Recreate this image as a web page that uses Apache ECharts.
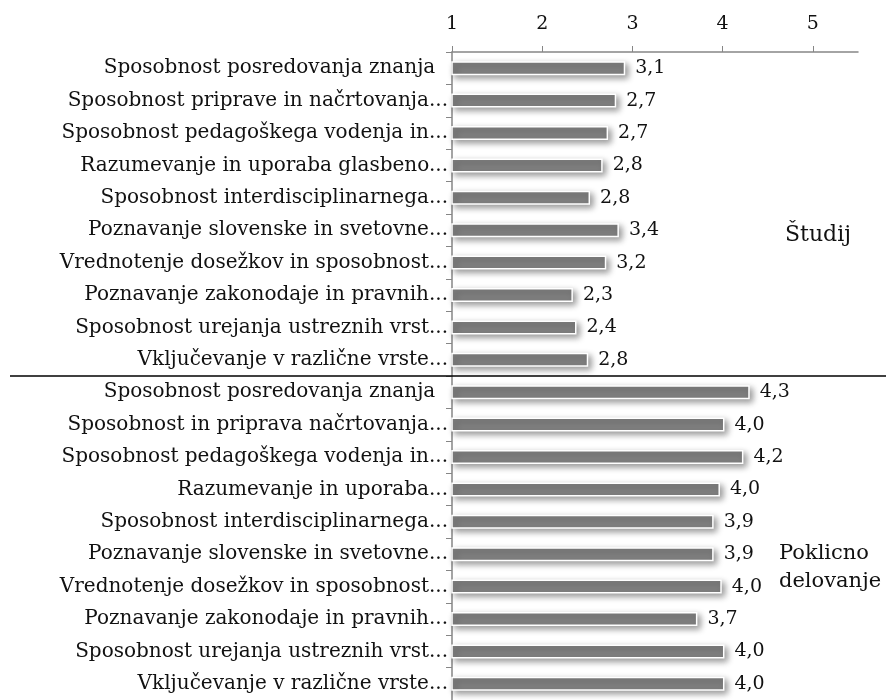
<!DOCTYPE html>
<html>
<head>
<meta charset="utf-8">
<script src="https://cdn.jsdelivr.net/npm/echarts@6/dist/echarts.min.js"></script>
<style>
  html, body { margin: 0; padding: 0; background: #fff; }
  #chart { width: 886px; height: 700px; }
</style>
</head>
<body>
<div id="chart"></div>
<script>
// kategorije (zgoraj: Študij, spodaj: Poklicno delovanje)
const categories = [
  'Sposobnost posredovanja znanja  ',
  'Sposobnost priprave in načrtovanja...',
  'Sposobnost pedagoškega vodenja in...',
  'Razumevanje in uporaba glasbeno...',
  'Sposobnost interdisciplinarnega...',
  'Poznavanje slovenske in svetovne...',
  'Vrednotenje dosežkov in sposobnost...',
  'Poznavanje zakonodaje in pravnih...',
  'Sposobnost urejanja ustreznih vrst...',
  'Vključevanje v različne vrste...',
  'Sposobnost posredovanja znanja  ',
  'Sposobnost in priprava načrtovanja...',
  'Sposobnost pedagoškega vodenja in...',
  'Razumevanje in uporaba...',
  'Sposobnost interdisciplinarnega...',
  'Poznavanje slovenske in svetovne...',
  'Vrednotenje dosežkov in sposobnost...',
  'Poznavanje zakonodaje in pravnih...',
  'Sposobnost urejanja ustreznih vrst...',
  'Vključevanje v različne vrste...'
]
// dolžine stolpcev, odčitane s slike
const barValues = [2.92, 2.82, 2.73, 2.67, 2.53, 2.85, 2.71, 2.34, 2.38, 2.51,
                   4.30, 4.02, 4.23, 3.97, 3.90, 3.90, 3.99, 3.72, 4.02, 4.02]
// oznake vrednosti, kot so izpisane
const valueLabels = ['3,1', '2,7', '2,7', '2,8', '2,8', '3,4', '3,2', '2,3', '2,4', '2,8',
                     '4,3', '4,0', '4,2', '4,0', '3,9', '3,9', '4,0', '3,7', '4,0', '4,0']
const xTicks = [1, 2, 3, 4, 5]
const groupNames = ['Študij', 'Poklicno\ndelovanje']

const font = '"DejaVu Serif", serif'
const chart = echarts.init(document.getElementById('chart'))

const option = {
  backgroundColor: '#fff',
  animation: false,
  grid: { left: 452, right: 28, top: 52, bottom: -2 },
  xAxis: {
    type: 'value',
    position: 'top',
    min: 1,
    max: 5.5,
    interval: 1,
    axisLine: { show: true, lineStyle: { color: '#868686', width: 1.5 } },
    axisTick: { show: true, inside: false, length: 6, customValues: xTicks, lineStyle: { color: '#868686' } },
    axisLabel: { customValues: xTicks, color: '#111', fontFamily: font, fontSize: 19, margin: 18 },
    splitLine: { show: false }
  },
  yAxis: {
    type: 'category',
    inverse: true,
    data: categories,
    axisLine: { show: true, lineStyle: { color: '#868686', width: 1.5 } },
    axisTick: { show: true, length: 6, lineStyle: { color: '#868686' } },
    axisLabel: { color: '#111', fontFamily: font, fontSize: 20, margin: 4 }
  },
  series: [{
    type: 'bar',
    data: barValues,
    barWidth: 14,
    itemStyle: {
      color: '#808080',
      borderColor: '#fff',
      borderWidth: 1.5,
      shadowColor: 'rgba(0,0,0,0.4)',
      shadowBlur: 6,
      shadowOffsetX: 3,
      shadowOffsetY: 3
    },
    label: {
      show: true,
      position: 'right',
      distance: 10,
      color: '#111',
      fontFamily: font,
      fontSize: 19,
      formatter: p => valueLabels[p.dataIndex]
    }
  }]
}
chart.setOption(option)

// ločilna črta med skupinama in napisa skupin
const ySep = (chart.convertToPixel({ yAxisIndex: 0 }, 9) + chart.convertToPixel({ yAxisIndex: 0 }, 10)) / 2
chart.setOption({
  graphic: [
    { type: 'line', shape: { x1: 10, y1: ySep, x2: 886, y2: ySep }, style: { stroke: '#000', lineWidth: 1.5 }, z: 10 },
    { type: 'text', left: 785, top: 224, style: { text: groupNames[0], font: '22px ' + font, fill: '#111' } },
    { type: 'text', left: 779, top: 540, style: { text: groupNames[1], font: '21px ' + font, fill: '#111', lineHeight: 28 } }
  ]
})

window.addEventListener('resize', () => chart.resize())
</script>
</body>
</html>
